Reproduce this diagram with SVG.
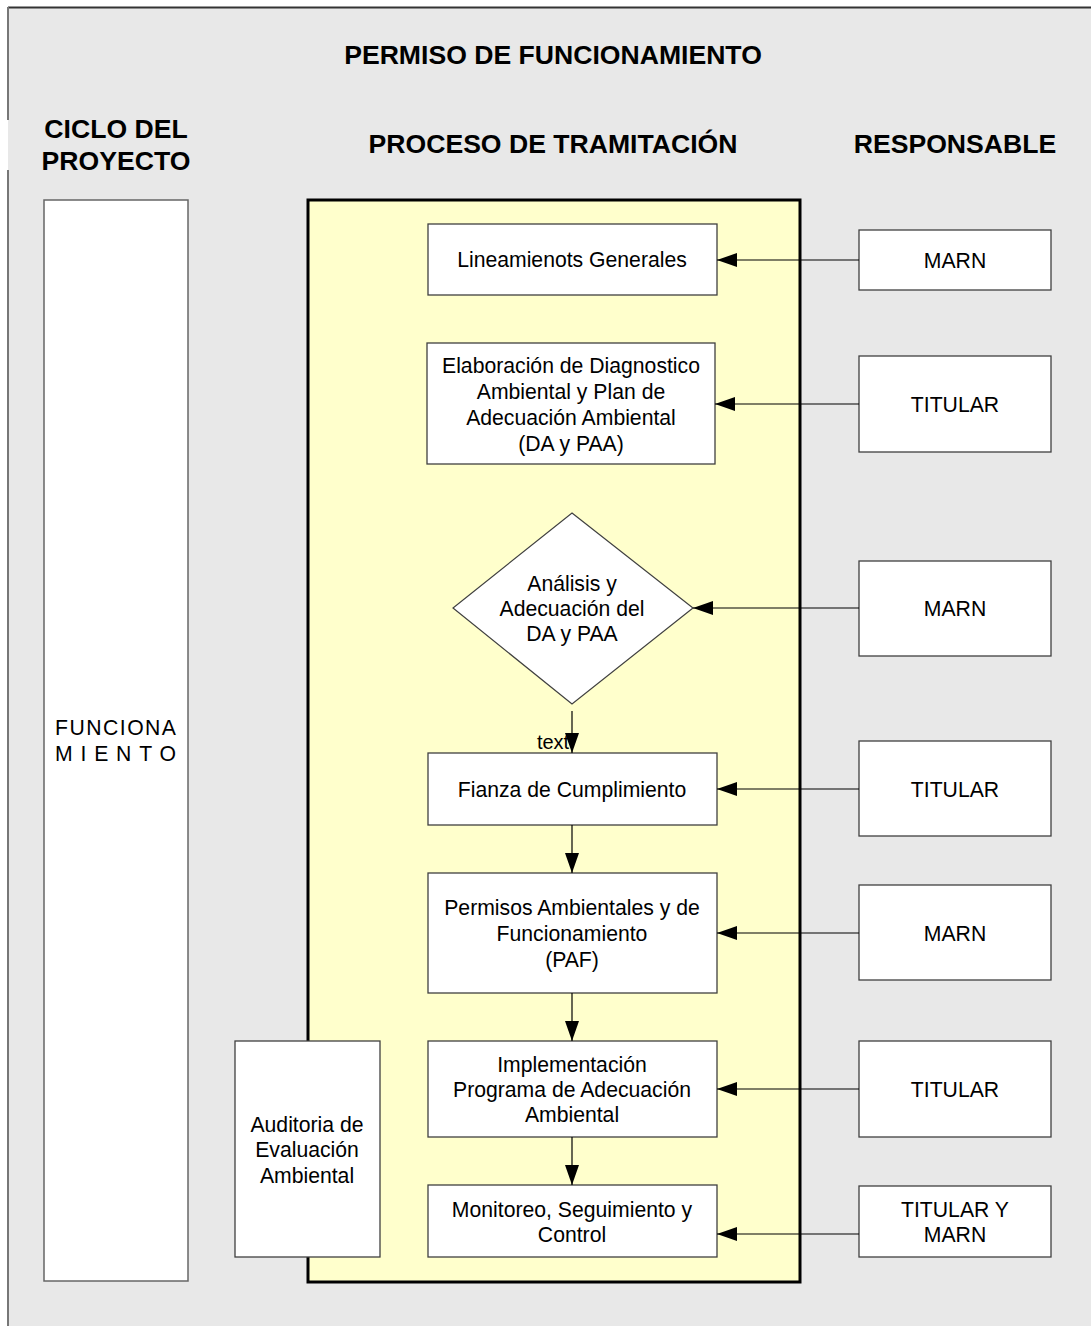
<svg xmlns="http://www.w3.org/2000/svg" width="1091" height="1326" viewBox="0 0 1091 1326">
<defs>
<style>
.hdr{font-family:"Liberation Sans",Arial,sans-serif;font-weight:bold;font-size:26.6px;fill:#000;text-anchor:middle}
.t{font-family:"Liberation Sans",Arial,sans-serif;font-size:21.2px;fill:#000;text-anchor:middle;dominant-baseline:central}
.box{fill:#fff;stroke:#404040;stroke-width:1.3}
.con{stroke:#000;stroke-width:1.2;fill:none}
</style>
<marker id="ah" viewBox="0 0 20 14" refX="20" refY="7" markerWidth="20" markerHeight="14" markerUnits="userSpaceOnUse" orient="auto">
<path d="M0,0 L20,7 L0,14 Z" fill="#000"/>
</marker>
</defs>
<rect x="0" y="0" width="1091" height="1326" fill="#fff"/>
<rect x="8" y="7" width="1090" height="1330" fill="#e8e8e8"/>
<line x1="8" y1="7.5" x2="1091" y2="7.5" stroke="#333" stroke-width="2"/>
<line x1="8" y1="7" x2="8" y2="120" stroke="#777" stroke-width="2"/>
<line x1="8" y1="170" x2="8" y2="1326" stroke="#777" stroke-width="2"/>

<g id="titles">
<text class="hdr" x="553" y="64">PERMISO DE FUNCIONAMIENTO</text>
<text class="hdr" x="116" y="138">CICLO DEL</text>
<text class="hdr" x="116" y="170">PROYECTO</text>
<text class="hdr" x="553" y="153">PROCESO DE TRAMITACIÓN</text>
<text class="hdr" x="955" y="153">RESPONSABLE</text>
</g>

<g id="ciclo">
<rect x="44" y="200" width="144" height="1081" fill="#fff" stroke="#666" stroke-width="1.5"/>
<text class="t" x="55" y="727" style="text-anchor:start" textLength="121" lengthAdjust="spacing">FUNCIONA</text>
<text class="t" x="55" y="753" style="text-anchor:start" textLength="121" lengthAdjust="spacing">MIENTO</text>
</g>

<g id="proceso">
<rect x="308" y="200" width="492" height="1082" fill="#ffffcc" stroke="#000" stroke-width="3"/>
</g>

<g id="n1">
<rect class="box" x="428" y="224" width="289" height="71"/>
<text class="t" x="572" y="259">Lineamienots Generales</text>
</g>
<g id="n2">
<rect class="box" x="427" y="343" width="288" height="121"/>
<text class="t" x="571" y="365">Elaboración de Diagnostico</text>
<text class="t" x="571" y="391">Ambiental y Plan de</text>
<text class="t" x="571" y="417">Adecuación Ambiental</text>
<text class="t" x="571" y="443">(DA y PAA)</text>
</g>
<g id="n3">
<polygon points="572,513 693,608 572,704 453,608" fill="#fff" stroke="#404040" stroke-width="1.2"/>
<text class="t" x="572" y="583">Análisis y</text>
<text class="t" x="572" y="608">Adecuación del</text>
<text class="t" x="572" y="633">DA y PAA</text>
</g>
<g id="n4">
<rect class="box" x="428" y="753" width="289" height="72"/>
<text class="t" x="572" y="789">Fianza de Cumplimiento</text>
</g>
<g id="n5">
<rect class="box" x="428" y="873" width="289" height="120"/>
<text class="t" x="572" y="907">Permisos Ambientales y de</text>
<text class="t" x="572" y="933">Funcionamiento</text>
<text class="t" x="572" y="959">(PAF)</text>
</g>
<g id="n6">
<rect class="box" x="428" y="1041" width="289" height="96"/>
<text class="t" x="572" y="1064">Implementación</text>
<text class="t" x="572" y="1089">Programa de Adecuación</text>
<text class="t" x="572" y="1114">Ambiental</text>
</g>
<g id="n7">
<rect class="box" x="428" y="1185" width="289" height="72"/>
<text class="t" x="572" y="1209">Monitoreo, Seguimiento y</text>
<text class="t" x="572" y="1234">Control</text>
</g>
<g id="n8">
<rect class="box" x="235" y="1041" width="145" height="216"/>
<text class="t" x="307" y="1124">Auditoria de</text>
<text class="t" x="307" y="1149">Evaluación</text>
<text class="t" x="307" y="1175">Ambiental</text>
</g>

<g id="r1"><rect class="box" x="859" y="230" width="192" height="60"/><text class="t" x="955" y="260">MARN</text></g>
<g id="r2"><rect class="box" x="859" y="356" width="192" height="96"/><text class="t" x="955" y="404">TITULAR</text></g>
<g id="r3"><rect class="box" x="859" y="561" width="192" height="95"/><text class="t" x="955" y="608">MARN</text></g>
<g id="r4"><rect class="box" x="859" y="741" width="192" height="95"/><text class="t" x="955" y="789">TITULAR</text></g>
<g id="r5"><rect class="box" x="859" y="885" width="192" height="95"/><text class="t" x="955" y="933">MARN</text></g>
<g id="r6"><rect class="box" x="859" y="1041" width="192" height="96"/><text class="t" x="955" y="1089">TITULAR</text></g>
<g id="r7"><rect class="box" x="859" y="1186" width="192" height="71"/><text class="t" x="955" y="1209">TITULAR Y</text><text class="t" x="955" y="1234">MARN</text></g>

<g id="connectors">
<path class="con" d="M859,260 L823,260 L717,260" marker-end="url(#ah)"/>
<line class="con" x1="859" y1="404" x2="715" y2="404" marker-end="url(#ah)"/>
<line class="con" x1="859" y1="608" x2="693" y2="608" marker-end="url(#ah)"/>
<line class="con" x1="859" y1="789" x2="717" y2="789" marker-end="url(#ah)"/>
<line class="con" x1="859" y1="933" x2="717" y2="933" marker-end="url(#ah)"/>
<line class="con" x1="859" y1="1089" x2="717" y2="1089" marker-end="url(#ah)"/>
<line class="con" x1="859" y1="1234" x2="717" y2="1234" marker-end="url(#ah)"/>
<line class="con" x1="572" y1="711" x2="572" y2="753" marker-end="url(#ah)"/>
<line class="con" x1="572" y1="825" x2="572" y2="873" marker-end="url(#ah)"/>
<line class="con" x1="572" y1="993" x2="572" y2="1041" marker-end="url(#ah)"/>
<line class="con" x1="572" y1="1137" x2="572" y2="1185" marker-end="url(#ah)"/>
<text x="553" y="742" style="font-family:'Liberation Sans',Arial,sans-serif;font-size:20px;text-anchor:middle;dominant-baseline:central">text</text>
</g>
</svg>
